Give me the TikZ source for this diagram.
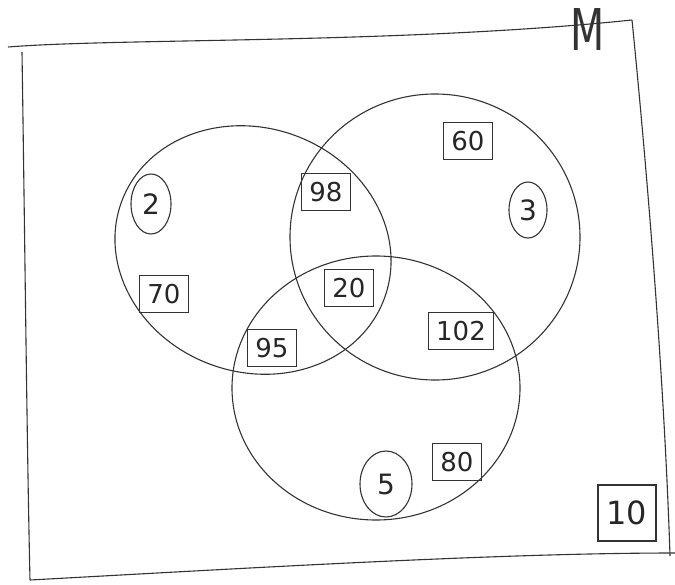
\documentclass[tikz,border=0pt]{standalone}
\usepackage{fontspec}
\setmainfont{DejaVu Sans}
\usetikzlibrary{shapes.geometric}
\begin{document}
\begin{tikzpicture}[x=0.5pt,y=-0.5pt,
  pen/.style={draw=black!80,line width=0.55pt},
  boxnum/.style={pen,rectangle,inner xsep=4pt,inner ysep=4.5pt,font=\fontsize{13}{15}\selectfont\mdseries,text=black!85},
  ringnum/.style={pen,ellipse,inner sep=1pt,font=\fontsize{14}{16}\selectfont,text=black!85}]
\useasboundingbox (0,0) rectangle (675,584);
% universe frame
\coordinate (tr) at (632,20);
\coordinate (br) at (670,556);
\coordinate (bl) at (30,580);
\draw[pen] (8,47) .. controls (120,38) and (400,44) .. (tr);
\draw[pen] (tr) .. controls (650,200) and (665,400) .. (br);
\draw[pen] (22,52) .. controls (25,250) and (27,450) .. (bl);
\draw[pen] (bl) .. controls (250,568) and (500,553) .. (675,553);
\node[font=\fontsize{18}{20}\selectfont,text=black!80,xscale=1.1,yscale=1.6] (M) at (588,30) {M};
% sets
\draw[pen,rotate around={-20:(253,250)}] (253,250) ellipse [x radius=140, y radius=122];
\draw[pen] (435,237) ellipse [x radius=145, y radius=143];
\draw[pen] (376,388) ellipse [x radius=144, y radius=132];
% elements
\node[ringnum,minimum width=20pt,minimum height=30pt] (n2) at (151,204) {2};
\node[boxnum] (n98) at (326,192) {98};
\node[boxnum] (n60) at (468,141) {60};
\node[ringnum,minimum width=19pt,minimum height=28pt] (n3) at (528,210) {3};
\node[boxnum] (n70) at (164,294) {70};
\node[boxnum] (n20) at (349,288) {20};
\node[boxnum] (n95) at (272,348) {95};
\node[boxnum] (n102) at (461,331) {102};
\node[ringnum,minimum width=26pt,minimum height=33pt] (n5) at (386,484) {5};
\node[boxnum] (n80) at (457,462) {80};
\node[boxnum,minimum width=29pt,minimum height=28pt,font=\fontsize{16}{18}\selectfont] (n10) at (627,513) {10};
\end{tikzpicture}
\end{document}
